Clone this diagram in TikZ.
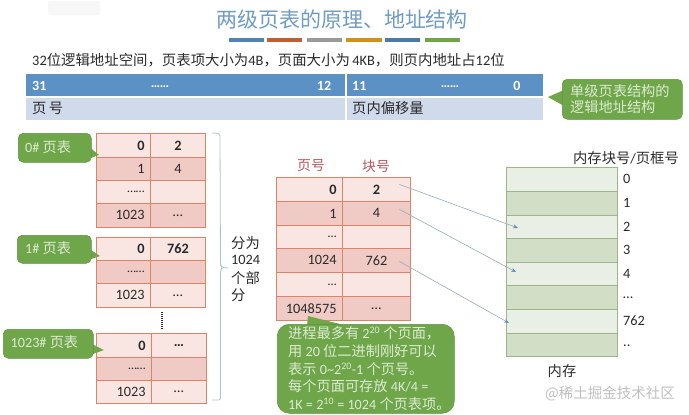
\documentclass[tikz,border=0pt]{standalone}
\usepackage{fontspec}
\setmainfont{Carlito}
\newfontfamily\cjk{Noto Sans CJK SC}
\newcommand{\Zh}[1]{{\cjk #1}}
\newcommand{\zhcomma}{{\cjk\char"FF0C\relax}}
\definecolor{titleblue}{HTML}{6E9CC4}
\definecolor{barblue}{HTML}{5B91C4}
\definecolor{rowblue}{HTML}{CFDAEA}
\definecolor{calloutgreen}{HTML}{6FA64A}
\definecolor{calloutedge}{HTML}{5F9140}
\definecolor{calloutink}{HTML}{DDEBD2}
\definecolor{celllight}{HTML}{F9E6E2}
\definecolor{celldark}{HTML}{F0CBC6}
\definecolor{celledge}{HTML}{DD8468}
\definecolor{memlight}{HTML}{E9EFE4}
\definecolor{memdark}{HTML}{D2DEC6}
\definecolor{memedge}{HTML}{9DB58A}
\definecolor{ink}{HTML}{2A2A2A}
\definecolor{headred}{HTML}{B5565E}
\definecolor{bracecol}{HTML}{A9C5CA}
\definecolor{arrowline}{HTML}{9AAAB8}
\definecolor{arrowhead}{HTML}{5F8FB8}
\usetikzlibrary{arrows.meta}
\tikzset{
  cell/.style={draw=celledge,line width=0.8pt,inner sep=0pt,anchor=north west},
  lbl/.style={inner sep=0pt,text=ink,font=\fontsize{14.3}{16}\selectfont},
  blbl/.style={lbl,font=\fontsize{14.3}{16}\selectfont\bfseries},
  whitelbl/.style={inner sep=0pt,text=white,font=\fontsize{14}{16}\selectfont\bfseries},
  dots/.style={lbl,font=\fontsize{12.5}{14}\selectfont},
  bubble/.style={fill=calloutgreen,draw=calloutedge,line width=0.5pt,rounded corners=5pt,inner sep=0pt,anchor=north west},
  bubbletext/.style={inner sep=0pt,text=calloutink,font=\fontsize{14.2}{16}\selectfont},
  memcell/.style={draw=memedge,line width=0.9pt,inner sep=0pt,anchor=north west,minimum width=111pt},
  link/.style={draw=arrowline,line width=0.6pt,-{Stealth[length=5pt,width=4pt,color=arrowhead]}},
  colorbar/.style={inner sep=0pt,minimum height=4pt,anchor=north west}
}
% #1 name, #2 y top, #3 height, #4 fill, #5 left text, #6 right text, #7 text style
\newcommand{\trow}[7]{%
  \node[cell,fill=#4,minimum width=\wa pt,minimum height=#3 pt] (#1a) at (\xa,#2) {};
  \node[cell,fill=#4,minimum width=\wb pt,minimum height=#3 pt] (#1b) at (\xa+\wa,#2) {};
  \node[#7,anchor=east] (#1at) at ([xshift=-6pt]#1a.east) {#5};
  \node[#7] (#1bt) at (#1b.center) {#6};
}
\begin{document}
\begin{tikzpicture}[x=1pt,y=-1pt]
\useasboundingbox (0,0) rectangle (689,415);
% faded mark, top left
\fill[black!3,rounded corners=2pt] (48,1) rectangle (100,15);
% title
\node[inner sep=0pt,text=titleblue,font=\cjk\fontsize{21}{24}\selectfont] (title) at (342,20) {两级页表的原理、地址结构};
\node[colorbar,fill=barblue!90!black,minimum width=35pt] (b1) at (229,38) {};
\node[colorbar,fill=orange!60!red!70!black!80,minimum width=35pt] (b2) at (267,38) {};
\node[colorbar,fill=black!40,minimum width=35pt] (b3) at (307,38) {};
\node[colorbar,fill=orange!70!yellow!80!black!90,minimum width=36pt] (b4) at (346,38) {};
\node[colorbar,fill=blue!50!cyan!50!black!70,minimum width=35pt] (b5) at (385,38) {};
\node[colorbar,fill=calloutgreen,minimum width=35pt] (b6) at (425,38) {};
% subtitle
\node[lbl,anchor=west,font=\fontsize{14.4}{16}\selectfont] (sub) at (32,60) {32\Zh{位逻辑地址空间}\zhcomma\Zh{页表项大小为}4B\zhcomma\Zh{页面大小为}\,4KB\zhcomma\Zh{则页内地址占}12\Zh{位}};
% address layout
\node[inner sep=0pt,anchor=north west,fill=barblue,minimum width=319pt,minimum height=22pt] (hi) at (26,74) {};
\node[inner sep=0pt,anchor=north west,fill=barblue,minimum width=196.5pt,minimum height=22pt] (lo) at (346.5,74) {};
\node[inner sep=0pt,anchor=north west,fill=rowblue,minimum width=319pt,minimum height=22pt] (hi2) at (26,98) {};
\node[inner sep=0pt,anchor=north west,fill=rowblue,minimum width=196.5pt,minimum height=22pt] (lo2) at (346.5,98) {};
\node[whitelbl,anchor=west] (n31) at (32,85.5) {31};
\node[whitelbl] (d1) at (160,87) {\fontsize{13}{14}\selectfont ……};
\node[whitelbl] (n12) at (324,85.5) {12};
\node[whitelbl,anchor=west] (n11) at (352,85.5) {11};
\node[whitelbl] (d2) at (450,87) {\fontsize{13}{14}\selectfont ……};
\node[whitelbl] (n0) at (517,85.5) {0};
\node[lbl,anchor=west] (ye) at (32,108.5) {\Zh{页\,号}};
\node[lbl,anchor=west] (off) at (352,108.5) {\Zh{页内偏移量}};
% callout: single level
\fill[calloutgreen] (564,90) -- (548,97) -- (564,106) -- cycle;
\node[bubble,minimum width=120pt,minimum height=40pt] (c0) at (562,79) {};
\node[bubbletext,align=left,anchor=west,font=\cjk\fontsize{14.2}{16.5}\selectfont] (c0t) at (570,99) {单级页表结构的\\逻辑地址结构};
% page table 0
\def\xa{95.5}\def\wa{54.5}\def\wb{55}
\trow{pa}{133}{24}{celllight}{0}{2}{blbl}
\trow{pb}{157}{23}{celldark}{1}{4}{lbl}
\trow{pc}{180}{23}{celllight}{……}{}{dots}
\trow{pd}{203}{24}{celldark}{1023}{…}{lbl}
% page table 1
\trow{qa}{237}{23}{celllight}{0}{762}{blbl}
\trow{qb}{260}{23}{celldark}{……}{}{dots}
\trow{qc}{283}{24}{celllight}{1023}{…}{lbl}
% dotted gap
\coordinate (gapa) at (162,312);
\coordinate (gapb) at (162,330);
\draw[ink,line width=1.2pt,dash pattern=on 1pt off 1pt] (gapa) -- (gapb);
% page table 1023
\def\xa{96}\def\wa{55}\def\wb{55}
\trow{ra}{333}{24}{celllight}{0}{…}{blbl}
\trow{rb}{357}{23}{celldark}{……}{}{dots}
\trow{rc}{380}{23}{celllight}{1023}{…}{lbl}
% bubbles
\fill[calloutgreen] (88,146) -- (99,155) -- (88,159) -- cycle;
\node[bubble,minimum width=73pt,minimum height=29pt] (c1) at (18,133) {};
\node[bubbletext,anchor=west] (c1t) at (25,147) {0\# \Zh{页表}};
\fill[calloutgreen] (88,248) -- (100,256) -- (88,260) -- cycle;
\node[bubble,minimum width=74pt,minimum height=28pt] (c2) at (17,235) {};
\node[bubbletext,anchor=west] (c2t) at (25,248.5) {1\# \Zh{页表}};
\fill[calloutgreen] (90,343) -- (104,350) -- (90,355) -- cycle;
\node[bubble,minimum width=90pt,minimum height=29pt] (c3) at (3,329) {};
\node[bubbletext,anchor=west] (c3t) at (10.5,342.5) {1023\# \Zh{页表}};
% brace
\coordinate (bta) at (212,133);
\coordinate (btb) at (212,400);
\coordinate (btn) at (228,268);
\draw[bracecol,line width=0.8pt,rounded corners=2pt] (bta) -- (220,133.5) -- (220.5,265) -- (222,267.5) -- (btn);
\draw[bracecol,line width=0.8pt,rounded corners=2pt] (222,267.5) -- (220.5,270) -- (220.5,400) -- (btb);
% brace text
\node[lbl,anchor=west] (s1) at (231,243) {\Zh{分为}};
\node[lbl,anchor=west] (s2) at (231,260) {1024};
\node[lbl,anchor=west] (s3) at (231,278) {\Zh{个部}};
\node[lbl,anchor=west] (s4) at (231,295) {\Zh{分}};
% headers
\node[inner sep=0pt,text=headred,font=\cjk\fontsize{13.8}{15}\selectfont] (h1) at (311,166) {页号};
\node[inner sep=0pt,text=headred,font=\cjk\fontsize{13.8}{15}\selectfont] (h2) at (376,166) {块号};
% merged page table
\def\xa{276}\def\wa{66}\def\wb{68}
\trow{ma}{177}{24}{celllight}{0}{2}{blbl}
\trow{mb}{201}{24}{celldark}{1}{4}{lbl}
\trow{mc}{225}{23}{celllight}{…}{}{dots}
\trow{md}{248}{24}{celldark}{1024}{762}{lbl}
\trow{me}{272}{24}{celllight}{…}{}{dots}
\trow{mf}{296}{24}{celldark}{1048575}{…}{lbl}
% big callout
\fill[calloutgreen] (308,316) -- (307,326) -- (348,326) -- cycle;
\node[bubble,rounded corners=12pt,minimum width=177pt,minimum height=89pt] (c4) at (277,324) {};
\node[bubbletext,anchor=west] (l1) at (288,333.5) {\Zh{进程最多有} 2\textsuperscript{20} \Zh{个页面}\zhcomma};
\node[bubbletext,anchor=west] (l2) at (288,351) {\Zh{用} 20 \Zh{位二进制刚好可以}};
\node[bubbletext,anchor=west] (l3) at (288,369) {\Zh{表示} 0\textasciitilde 2\textsuperscript{20}-1 \Zh{个页号。}};
\node[bubbletext,anchor=west] (l4) at (288,386.5) {\Zh{每个页面可存放} 4K/4 =};
\node[bubbletext,anchor=west] (l5) at (288,404) {1K = 2\textsuperscript{10} = 1024 \Zh{个页表项。}};
% memory
\node[memcell,fill=memlight,minimum height=24pt] (f0) at (506,167) {};
\node[memcell,fill=memdark,minimum height=23.5pt] (f1) at (506,191) {};
\node[memcell,fill=memlight,minimum height=23.5pt] (f2) at (506,214.5) {};
\node[memcell,fill=memdark,minimum height=24pt] (f3) at (506,238) {};
\node[memcell,fill=memlight,minimum height=23pt] (f4) at (506,262) {};
\node[memcell,fill=memdark,minimum height=24pt] (f5) at (506,285) {};
\node[memcell,fill=memlight,minimum height=23.5pt] (f6) at (506,309) {};
\node[memcell,fill=memdark,minimum height=23.5pt] (f7) at (506,332.5) {};
\node[lbl,anchor=west] (k0) at (623,179) {0};
\node[lbl,anchor=west] (k1) at (623,203) {1};
\node[lbl,anchor=west] (k2) at (623,227) {2};
\node[lbl,anchor=west] (k3) at (623,250) {3};
\node[lbl,anchor=west] (k4) at (623,274) {4};
\node[lbl,anchor=west] (k5) at (623,298) {…};
\node[lbl,anchor=west] (k6) at (623,321) {762};
\node[lbl,anchor=west] (k7) at (623,346) {..};
\node[lbl] (memh) at (626,158) {\Zh{内存块号}/\Zh{页框号}};
\node[lbl] (memf) at (562,371) {\Zh{内存}};
\node[inner sep=0pt,text=black!25,font=\cjk\fontsize{14.5}{16}\selectfont] (wm) at (610,394) {@稀土掘金技术社区};
% links
\coordinate (to2) at (518,228);
\coordinate (to4) at (516,272);
\coordinate (to7) at (509,323);
\draw[link] (mabt.center) ++(23,-5) -- (to2);
\draw[link] (mbbt.center) ++(23,-4) -- (to4);
\draw[link] (mdbt.center) ++(23,1) -- (to7);
\end{tikzpicture}
\end{document}
